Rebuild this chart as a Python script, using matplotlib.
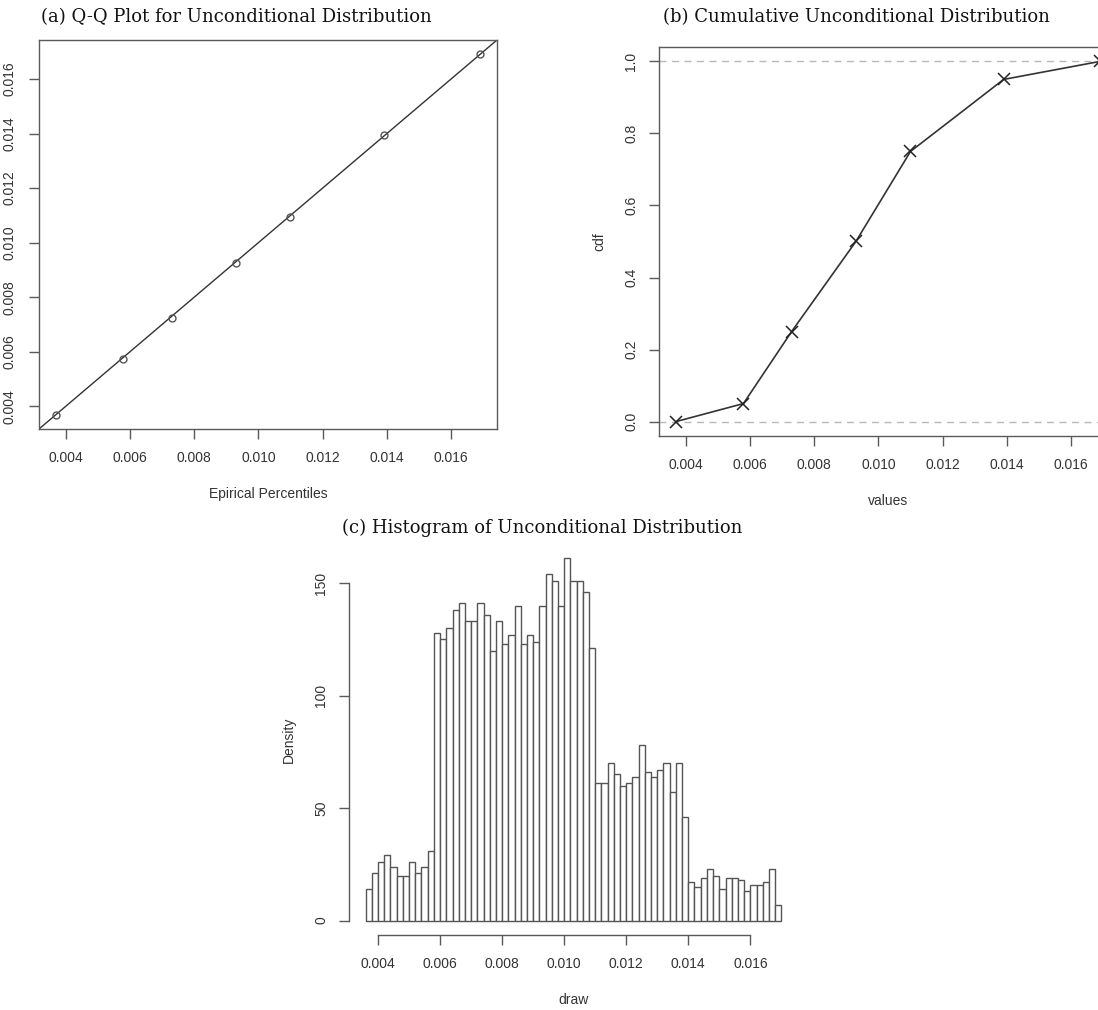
import numpy as np
import matplotlib.pyplot as plt

##############################################################################
# Data

# Percentiles of the unconditional distribution (0, 5, 25, 50, 75, 95, 100 %)
cdf_probs = [0.0, 0.05, 0.25, 0.50, 0.75, 0.95, 1.0]
empirical_q = [0.0037, 0.0058, 0.0073, 0.0093, 0.0110, 0.0139, 0.0169]
theoretical_q = [0.0037, 0.00575, 0.00725, 0.00925, 0.01095, 0.01395, 0.0169]

# Histogram: bins of width 0.0002 from 0.0036 to 0.0170, density per bin
hist_start = 0.0036
hist_width = 0.0002
hist_density = [
    14, 21, 26, 29, 24, 20, 20, 26, 21, 24, 31,
    128, 125, 130, 138, 141, 133, 133, 141, 136, 120, 133, 123, 127,
    140, 123, 127, 124, 140, 154, 151, 140, 161, 151, 151, 146, 121,
    61, 61, 70, 65, 60, 61, 64, 78, 66, 64, 67, 70, 57, 70, 46,
    17, 15, 19, 23, 20, 14, 19, 19, 18, 13, 16, 16, 17, 23, 7,
]

x_ticks = [0.004, 0.006, 0.008, 0.010, 0.012, 0.014, 0.016]
cdf_ticks = [0.0, 0.2, 0.4, 0.6, 0.8, 1.0]
dens_ticks = [0, 50, 100, 150]

##############################################################################
# Helpers

W, H = 1098, 1010
fig = plt.figure(figsize=(W / 100, H / 100), dpi=100)

AX_COL = '#5a5a5a'
TXT_COL = '#333333'
TICK_FONT = dict(family='Liberation Sans', size=10)
TITLE_FONT = dict(family='DejaVu Serif', size=13)


def px_axes(x, y, w, h):
    """Add axes from pixel box (left, top, width, height)."""
    return fig.add_axes([x / W, 1 - (y + h) / H, w / W, h / H])


def r_range(lo, hi):
    # R's default 4% axis expansion
    d = (hi - lo) * 0.04
    return lo - d, hi + d


def style_axes(ax, ypad=8):
    for sp in ax.spines.values():
        sp.set_color(AX_COL)
        sp.set_linewidth(1.0)
    ax.tick_params(axis='both', direction='out', length=7, width=1.0,
                   color=AX_COL, labelcolor=TXT_COL, labelsize=10)
    ax.tick_params(axis='x', pad=9)
    ax.tick_params(axis='y', pad=ypad, labelrotation=90)
    for lab in ax.get_xticklabels() + ax.get_yticklabels():
        lab.set_family('Liberation Sans')
    for lab in ax.get_yticklabels():
        lab.set_va('center')


##############################################################################
# (a) Q-Q plot

ax1 = px_axes(39, 40, 458, 389)
ax1.axline((empirical_q[0], empirical_q[0]), slope=1, color='#333333', lw=1.0)
ax1.plot(empirical_q, theoretical_q, 'o', ms=5, mfc='none', mec='#555555', mew=1.0)
ax1.set_xlim(*r_range(min(empirical_q), max(empirical_q)))
ax1.set_ylim(*r_range(min(empirical_q), max(empirical_q)))
ax1.set_xticks(x_ticks)
ax1.set_yticks(x_ticks)
ax1.set_xticklabels(['%.3f' % t for t in x_ticks])
ax1.set_yticklabels(['%.3f' % t for t in x_ticks])
ax1.set_xlabel('Epirical Percentiles', fontdict=TICK_FONT, color=TXT_COL, labelpad=16)
style_axes(ax1, ypad=9)

##############################################################################
# (b) Cumulative distribution

ax2 = px_axes(659, 47, 458, 389)
for yv in (0, 1):
    ax2.axhline(yv, color='#b8b8b8', lw=1.0, ls=(0, (5, 4)))
ax2.plot(empirical_q, cdf_probs, '-', color='#333333', lw=1.2,
         marker='x', ms=8, mew=1.1, mec='#222222')
ax2.set_xlim(*r_range(min(empirical_q), max(empirical_q)))
ax2.set_ylim(*r_range(0, 1))
ax2.set_xticks(x_ticks)
ax2.set_yticks(cdf_ticks)
ax2.set_xticklabels(['%.3f' % t for t in x_ticks])
ax2.set_yticklabels(['%.1f' % t for t in cdf_ticks])
ax2.set_xlabel('values', fontdict=TICK_FONT, color=TXT_COL, labelpad=16)
ax2.set_ylabel('cdf', fontdict=TICK_FONT, color=TXT_COL, labelpad=13)
style_axes(ax2)

##############################################################################
# (c) Histogram

edges = np.round(np.arange(len(hist_density) + 1) * hist_width + hist_start, 4)
ax3 = px_axes(349, 544, 449, 391)
ax3.bar(edges[:-1], hist_density, width=hist_width, align='edge',
        facecolor='white', edgecolor='#555555', linewidth=1.0)
ax3.set_xlim(*r_range(edges[0], edges[-1]))
ax3.set_ylim(*r_range(0, max(hist_density)))
ax3.set_xticks(x_ticks)
ax3.set_yticks(dens_ticks)
ax3.set_xticklabels(['%.3f' % t for t in x_ticks])
ax3.set_yticklabels([str(t) for t in dens_ticks])
ax3.spines['top'].set_visible(False)
ax3.spines['right'].set_visible(False)
ax3.spines['left'].set_bounds(dens_ticks[0], dens_ticks[-1])
ax3.spines['bottom'].set_bounds(x_ticks[0], x_ticks[-1])
ax3.set_xlabel('draw', fontdict=TICK_FONT, color=TXT_COL, labelpad=16)
ax3.set_ylabel('Density', fontdict=TICK_FONT, color=TXT_COL, labelpad=13)
style_axes(ax3)

##############################################################################
# Titles

fig.text(236 / W, 1 - 17 / H, '(a) Q-Q Plot for Unconditional Distribution',
         ha='center', va='center', color='#111111', **TITLE_FONT)
fig.text(856 / W, 1 - 17 / H, '(b) Cumulative Unconditional Distribution',
         ha='center', va='center', color='#111111', **TITLE_FONT)
fig.text(542 / W, 1 - 528 / H, '(c) Histogram of Unconditional Distribution',
         ha='center', va='center', color='#111111', **TITLE_FONT)

fig.savefig('out.png', dpi=100, facecolor='white')
